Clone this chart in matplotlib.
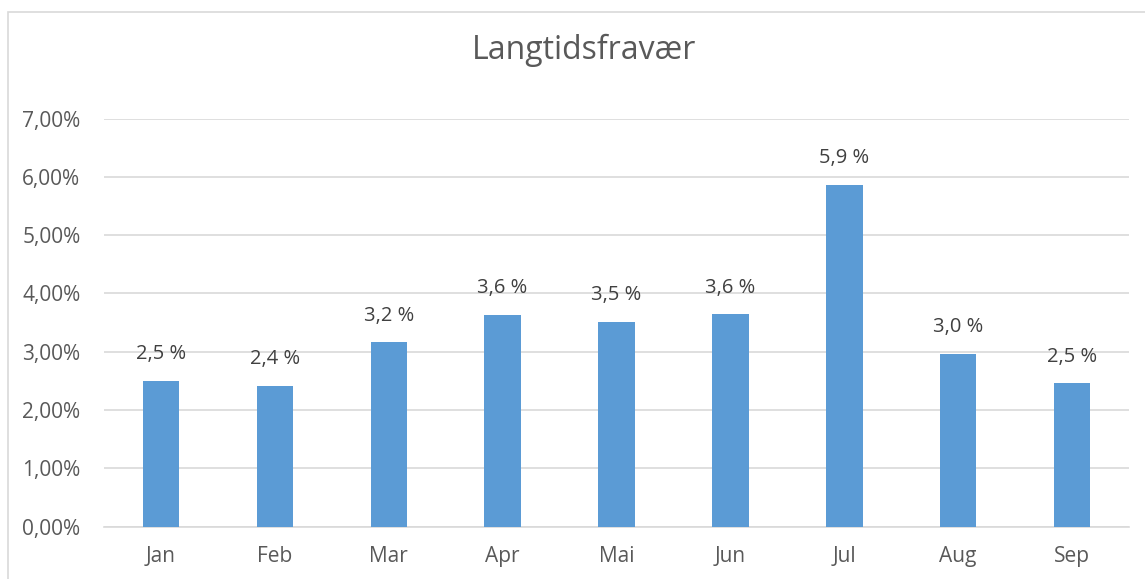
import matplotlib
matplotlib.use("Agg")
import matplotlib.pyplot as plt
from matplotlib.patches import Rectangle

months = ["Jan", "Feb", "Mar", "Apr", "Mai", "Jun", "Jul", "Aug", "Sep"]
values = [2.50, 2.41, 3.16, 3.63, 3.51, 3.64, 5.86, 2.97, 2.46]
labels = ["2,5 %", "2,4 %", "3,2 %", "3,6 %", "3,5 %", "3,6 %", "5,9 %", "3,0 %", "2,5 %"]
yticks = [0, 1, 2, 3, 4, 5, 6, 7]
yticklabels = ["0,00%", "1,00%", "2,00%", "3,00%", "4,00%", "5,00%", "6,00%", "7,00%"]

W, H = 1145, 579
fig = plt.figure(figsize=(W / 100, H / 100), dpi=100)
fig.patches.append(Rectangle((8 / W, -0.01), 1.0, 1 - 12 / H + 0.01, transform=fig.transFigure,
                             fill=False, edgecolor="#d9d9d9", linewidth=1.2))

ax = fig.add_axes([104 / W, 1 - 526.7 / H, (1129 - 104) / W, (526.7 - 118.5) / H])
x = list(range(len(months)))
ax.bar(x, values, width=0.32, color="#5b9bd5", zorder=3)
for xi, v, lab in zip(x, values, labels):
    ax.annotate(lab, (xi, v), xytext=(0, 12), textcoords="offset points",
                ha="center", va="bottom", fontsize=14.5, color="#404040", family="Open Sans")

ax.set_xlim(-0.5, len(months) - 0.5)
ax.set_ylim(0, 7)
ax.set_yticks(yticks)
ax.set_yticklabels(yticklabels, fontsize=15, color="#595959", family="Open Sans")
ax.set_xticks(x)
ax.set_xticklabels(months, fontsize=15, color="#595959", family="Open Sans")
ax.tick_params(length=0)
ax.tick_params(axis="x", pad=14)
ax.tick_params(axis="y", pad=17)
ax.yaxis.grid(True, color="#d9d9d9", linewidth=1.2, zorder=0)
for s in ["top", "right", "left"]:
    ax.spines[s].set_visible(False)
ax.spines["bottom"].set_color("#d9d9d9")
ax.spines["bottom"].set_linewidth(1.2)

fig.text(584 / W, 1 - 50 / H, "Langtidsfravær", ha="center", va="center", fontsize=23,
         color="#595959", family="Open Sans")

fig.savefig("out.png", dpi=100)
